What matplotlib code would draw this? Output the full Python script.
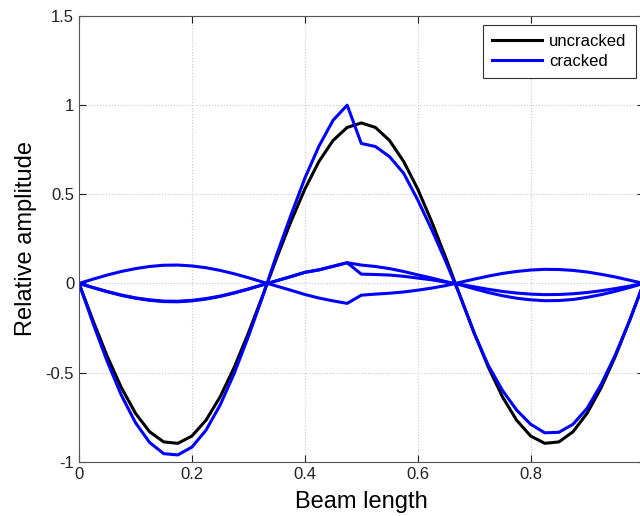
import numpy as np
import matplotlib
matplotlib.use("Agg")
import matplotlib.pyplot as plt

plt.rcParams['font.family'] = ['Liberation Sans', 'DejaVu Sans']

# sample points along the beam
x = np.linspace(0, 1, 41)

# uncracked mode shape (black)
uncracked = [0, -0.210, -0.409, -0.584, -0.728, -0.832, -0.889, -0.897, -0.856, -0.767,
             -0.636, -0.470, -0.278, -0.071, 0.141, 0.344, 0.529, 0.684, 0.802, 0.875,
             0.900, 0.875, 0.802, 0.684, 0.529, 0.344, 0.141, -0.071, -0.278, -0.470,
             -0.636, -0.767, -0.856, -0.897, -0.889, -0.832, -0.728, -0.584, -0.409, -0.210, 0]

# cracked mode shape (blue, big one)
cracked = [0, -0.225, -0.438, -0.627, -0.781, -0.892, -0.955, -0.962, -0.918, -0.823,
           -0.682, -0.504, -0.298, -0.076, 0.160, 0.380, 0.590, 0.770, 0.915, 1.000,
           0.785, 0.768, 0.711, 0.618, 0.468, 0.300, 0.120, -0.070, -0.280, -0.460,
           -0.600, -0.710, -0.790, -0.838, -0.835, -0.790, -0.700, -0.565, -0.400, -0.210, 0]

# small cracked components
small_a = [0, -0.024, -0.047, -0.067, -0.083, -0.095, -0.102, -0.103, -0.098, -0.088,
           -0.073, -0.054, -0.032, -0.008, 0.015, 0.038, 0.062, 0.076, 0.096, 0.116,
           0.103, 0.095, 0.083, 0.067, 0.048, 0.030, 0.010, -0.008, -0.030, -0.051,
           -0.069, -0.083, -0.092, -0.097, -0.096, -0.090, -0.078, -0.063, -0.044, -0.023, 0]

small_b = [0, -0.023, -0.045, -0.065, -0.081, -0.092, -0.099, -0.100, -0.095, -0.085,
           -0.071, -0.052, -0.031, -0.008, 0.015, 0.038, 0.062, 0.076, 0.096, 0.116,
           0.052, 0.050, 0.047, 0.040, 0.030, 0.020, 0.007, -0.005, -0.019, -0.033,
           -0.045, -0.054, -0.060, -0.063, -0.062, -0.058, -0.051, -0.041, -0.029, -0.015, 0]

small_c = [0, 0.024, 0.047, 0.067, 0.083, 0.095, 0.102, 0.103, 0.098, 0.088,
           0.073, 0.054, 0.032, 0.008, -0.015, -0.038, -0.062, -0.082, -0.098, -0.112,
           -0.066, -0.060, -0.055, -0.048, -0.038, -0.026, -0.012, 0.006, 0.024, 0.041,
           0.056, 0.067, 0.075, 0.079, 0.078, 0.073, 0.064, 0.051, 0.036, 0.018, 0]

xticks = [0, 0.2, 0.4, 0.6, 0.8]
yticks = [-1, -0.5, 0, 0.5, 1, 1.5]

fig = plt.figure(figsize=(6.4, 5.16), dpi=100)
ax = fig.add_axes([79/640, (516-461.7)/516, 564.6/640, 445.7/516])

lw = 2.2
ax.plot(x, uncracked, color='black', lw=lw, label='uncracked')
ax.plot(x, cracked, color='#0000ff', lw=lw, label='cracked')
ax.plot(x, small_a, color='#0000ff', lw=lw)
ax.plot(x, small_b, color='#0000ff', lw=lw)
ax.plot(x, small_c, color='#0000ff', lw=lw)

ax.set_xlim(0, 1)
ax.set_ylim(-1, 1.5)
ax.set_xticks(xticks)
ax.set_yticks(yticks)
ax.set_xticklabels([f"{v:g}" for v in xticks])
ax.set_yticklabels([f"{v:g}" for v in yticks])
ax.tick_params(direction='in', top=True, right=True, length=5, labelsize=12, colors='#222222')
ax.grid(True, linestyle=':', color='#c8c8c8', linewidth=0.8)
for sp in ax.spines.values():
    sp.set_color('#555555')

ax.set_xlabel("Beam length", fontsize=17, labelpad=7)
ax.set_ylabel("Relative amplitude", fontsize=17, labelpad=6)

leg = ax.legend(loc='upper right', bbox_to_anchor=(635.7/640, 1-25/516),
                bbox_transform=fig.transFigure, fontsize=12, fancybox=False,
                edgecolor='#333333', framealpha=1, handlelength=3.0,
                borderaxespad=0, borderpad=0.55, labelspacing=0.3, handletextpad=0.4)
leg.get_frame().set_linewidth(0.8)

fig.savefig("out.png", dpi=100)
